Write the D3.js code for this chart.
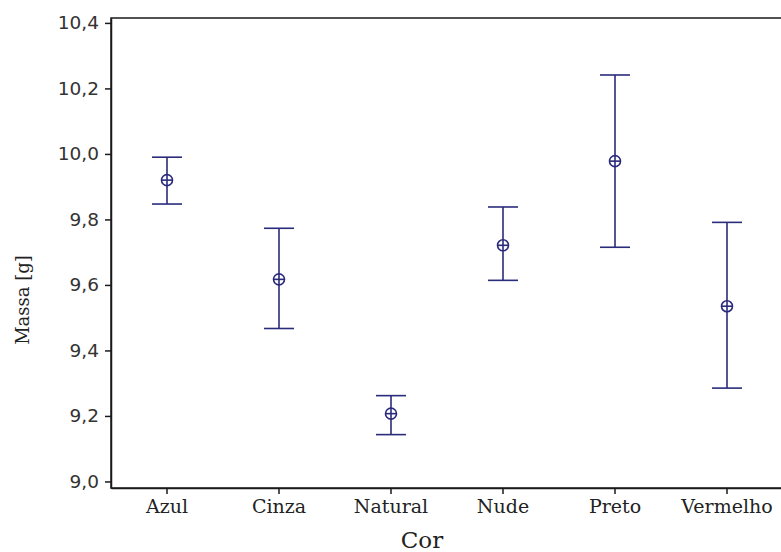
<!DOCTYPE html>
<html>
<head>
<meta charset="utf-8">
<script src="https://cdn.jsdelivr.net/npm/d3@7"></script>
<style>
  html, body { margin: 0; padding: 0; background: #fff; }
  svg { display: block; }
</style>
</head>
<body>
<svg id="chart" width="781" height="552"></svg>
<script>
const categories = ["Azul", "Cinza", "Natural", "Nude", "Preto", "Vermelho"];
const means = [9.92, 9.617, 9.207, 9.721, 9.978, 9.535];
const upper = [9.99, 9.773, 9.262, 9.838, 10.241, 9.791];
const lower = [9.847, 9.467, 9.143, 9.614, 9.715, 9.285];
const yTicks = [9.0, 9.2, 9.4, 9.6, 9.8, 10.0, 10.2, 10.4];
const xTitle = "Cor";
const yTitle = "Massa [g]";

(function () {
const svg = d3.select("#chart");
const L = 111, T = 18, R = 783, B = 488;
const navy = "#2b2b7c";

const x = d3.scaleBand().domain(categories).range([L, R]).padding(0);
const y = d3.scaleLinear().domain([8.98, 10.415]).range([B, T]);

svg.append("rect")
  .attr("x", L).attr("y", T)
  .attr("width", R - L).attr("height", B - T)
  .attr("fill", "none").attr("stroke", "#1a1a1a").attr("stroke-width", 1.5);

const yAxis = svg.append("g")
  .attr("transform", `translate(${L},0)`)
  .call(d3.axisLeft(y).tickValues(yTicks).tickSize(6).tickSizeOuter(0).tickPadding(6)
    .tickFormat(d => d3.format(".1f")(d).replace(".", ",")));
yAxis.select(".domain").attr("stroke", "#1a1a1a").attr("stroke-width", 1.5);
yAxis.selectAll(".tick line").attr("stroke", "#1a1a1a").attr("stroke-width", 1.5);
yAxis.selectAll(".tick text")
  .attr("font-family", "DejaVu Sans, Verdana, sans-serif")
  .attr("font-size", 18.5).attr("fill", "#333");

const xAxis = svg.append("g")
  .attr("transform", `translate(0,${B})`)
  .call(d3.axisBottom(x).tickSize(6).tickSizeOuter(0).tickPadding(6));
xAxis.select(".domain").attr("stroke", "#1a1a1a").attr("stroke-width", 1.5);
xAxis.selectAll(".tick line").attr("stroke", "#1a1a1a").attr("stroke-width", 1.5);
xAxis.selectAll(".tick text")
  .attr("font-family", "DejaVu Serif, serif")
  .attr("font-size", 19).attr("fill", "#222");

svg.append("text")
  .attr("x", 422).attr("y", 548)
  .attr("text-anchor", "middle")
  .attr("font-family", "DejaVu Serif, serif")
  .attr("font-size", 23).attr("fill", "#222")
  .text(xTitle);

svg.append("text")
  .attr("transform", "translate(29,300) rotate(-90)")
  .attr("text-anchor", "middle")
  .attr("font-family", "DejaVu Serif, serif")
  .attr("font-size", 18).attr("fill", "#222")
  .text(yTitle);

const data = categories.map((c, i) => ({ c, m: means[i], hi: upper[i], lo: lower[i] }));
const cx = d => x(d.c) + x.bandwidth() / 2;
const capW = 15;
const g = svg.append("g").attr("stroke", navy).attr("stroke-width", 1.6).attr("fill", "none");

g.selectAll(".whisk").data(data).join("line").attr("class", "whisk")
  .attr("x1", cx).attr("x2", cx)
  .attr("y1", d => y(d.hi)).attr("y2", d => y(d.lo));
g.selectAll(".capHi").data(data).join("line").attr("class", "capHi")
  .attr("x1", d => cx(d) - capW).attr("x2", d => cx(d) + capW)
  .attr("y1", d => y(d.hi)).attr("y2", d => y(d.hi));
g.selectAll(".capLo").data(data).join("line").attr("class", "capLo")
  .attr("x1", d => cx(d) - capW).attr("x2", d => cx(d) + capW)
  .attr("y1", d => y(d.lo)).attr("y2", d => y(d.lo));

const r = 5.5;
const mk = svg.append("g").attr("stroke", navy).attr("stroke-width", 1.6);
mk.selectAll("circle").data(data).join("circle")
  .attr("cx", cx).attr("cy", d => y(d.m)).attr("r", r)
  .attr("fill", "#fff");
mk.selectAll(".hx").data(data).join("line").attr("class", "hx")
  .attr("x1", d => cx(d) - r).attr("x2", d => cx(d) + r)
  .attr("y1", d => y(d.m)).attr("y2", d => y(d.m));
mk.selectAll(".vx").data(data).join("line").attr("class", "vx")
  .attr("x1", cx).attr("x2", cx)
  .attr("y1", d => y(d.m) - r).attr("y2", d => y(d.m) + r);
})();
</script>
</body>
</html>
